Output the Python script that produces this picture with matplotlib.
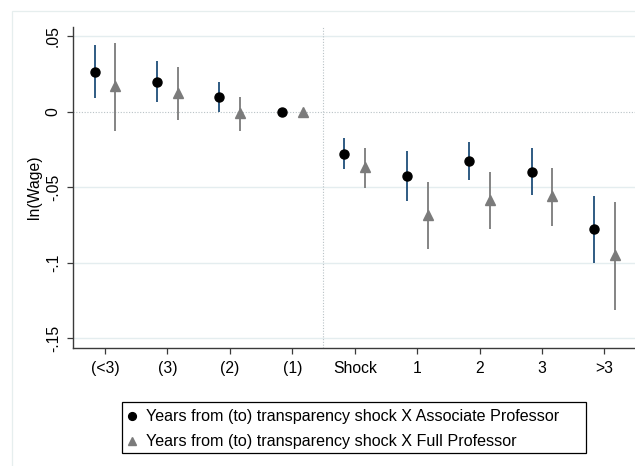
import numpy as np
import matplotlib
matplotlib.use("Agg")
import matplotlib.pyplot as plt
from matplotlib.patches import Rectangle
from matplotlib.lines import Line2D

plt.rcParams['font.family'] = ['Liberation Sans', 'DejaVu Sans']

periods = ["(<3)", "(3)", "(2)", "(1)", "Shock", "1", "2", "3", ">3"]

# Associate professor: point estimate and CI bounds
assoc_coef = [0.0266, 0.0199, 0.0096, 0.0, -0.0277, -0.0425, -0.0326, -0.0397, -0.0776]
assoc_lo = [0.0089, 0.0063, 0.0000, 0.0, -0.0381, -0.0593, -0.0454, -0.0549, -0.1001]
assoc_hi = [0.0442, 0.0338, 0.0195, 0.0, -0.0176, -0.0258, -0.0198, -0.0242, -0.0556]

# Full professor
full_coef = [0.0172, 0.0123, -0.0010, 0.0, -0.0364, -0.0681, -0.0584, -0.0559, -0.0948]
full_lo = [-0.0127, -0.0054, -0.0127, 0.0, -0.0507, -0.0911, -0.0776, -0.0754, -0.1313]
full_hi = [0.0454, 0.0295, 0.0096, 0.0, -0.0238, -0.0463, -0.0399, -0.0374, -0.0597]

ytick_vals = [0.05, 0.0, -0.05, -0.1, -0.15]
ytick_labels = [".05", "0", "-.05", "-.1", "-.15"]

legend_labels = ["Years from (to) transparency shock X Associate Professor",
                 "Years from (to) transparency shock X Full Professor"]

navy = "#1f4e79"
gray = "#7b7b7b"
grid_col = "#e4edef"
dot_col = "#b9c2c6"

W, H = 635, 466
fig = plt.figure(figsize=(W / 100, H / 100), dpi=100)

# faint outer frame of the graph region
fig.patches.append(Rectangle((11.5 / W, -0.1), 2, 1 - 10.5 / H + 0.1,
                             transform=fig.transFigure, fill=False,
                             edgecolor="#e6eeee", linewidth=0.9))

ax = fig.add_axes([73.3 / W, 1 - 348.3 / H, 1 - 73.3 / W + 0.002, (348.3 - 26.7) / H])

x = np.arange(1, len(periods) + 1)
off = 0.167

for v in ytick_vals:
    if v != 0:
        ax.axhline(v, color=grid_col, linewidth=1.0, zorder=0)
ax.axhline(0, color=dot_col, linewidth=0.8, linestyle=(0, (1, 1.5)), zorder=0)
ax.axvline(4.5, color=dot_col, linewidth=0.8, linestyle=(0, (1, 1.5)), zorder=0)

ax.vlines(x - off, assoc_lo, assoc_hi, color=navy, linewidth=1.3, zorder=2)
ax.vlines(x + off, full_lo, full_hi, color=gray, linewidth=1.3, zorder=2)
ax.plot(x - off, assoc_coef, linestyle="none", marker="o", markersize=6.5,
        color="black", zorder=3)
ax.plot(x + off, full_coef, linestyle="none", marker="^", markersize=7,
        color=gray, zorder=3)

ax.set_xlim(0.493, 9.51)
ax.set_ylim(-0.1566, 0.0564)
ax.set_xticks(x)
ax.set_xticklabels(periods)
ax.set_yticks(ytick_vals)
ax.set_yticklabels(ytick_labels, rotation=90, va="center")

for s in ["top", "right"]:
    ax.spines[s].set_visible(False)
for s in ["left", "bottom"]:
    ax.spines[s].set_color("#3a3a3a")
    ax.spines[s].set_linewidth(1.0)

ax.tick_params(axis="both", direction="out", length=4.5, width=0.9,
               color="#3a3a3a", labelsize=11.3)
ax.tick_params(axis="x", pad=4.3)
ax.tick_params(axis="y", pad=4.5)
ax.set_ylabel("ln(Wage)", fontsize=11.3, labelpad=2.5)

# legend box
fig.patches.append(Rectangle((122 / W, 1 - 453 / H), 464 / W, 51.3 / H,
                             transform=fig.transFigure, fill=False,
                             edgecolor="black", linewidth=0.9))
handles = [Line2D([], [], linestyle="none", marker="o", markersize=5.6, color="black"),
           Line2D([], [], linestyle="none", marker="^", markersize=6.2, color=gray)]
fig.legend(handles, legend_labels, loc="upper left",
           bbox_to_anchor=(121 / W, 1 - 404.5 / H), frameon=False,
           fontsize=11.6, handlelength=0.8, handletextpad=0.48,
           labelspacing=0.62, borderpad=0.3, borderaxespad=0)

fig.savefig("out.png", dpi=100)
